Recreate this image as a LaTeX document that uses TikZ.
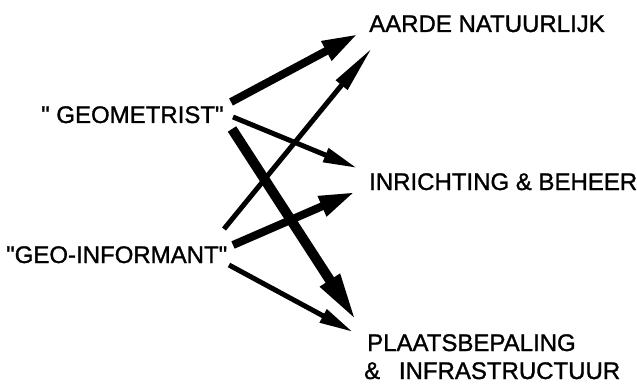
\documentclass[tikz,border=0pt]{standalone}
\usepackage{fontspec}
\setmainfont{Liberation Sans}[Ligatures=TeXOff,FakeBold=1.2]
\usetikzlibrary{arrows.meta}
\begin{document}
\begin{tikzpicture}[x=1pt,y=-1pt,
  lbl/.style={anchor=base west,inner sep=0pt,font=\fontsize{24}{28}\selectfont},
  heavy/.style={line width=10pt,-{Triangle[length=50pt,width=21pt]}},
  thick8/.style={line width=8pt,-{Triangle[length=36pt,width=20pt]}},
  thin5/.style={line width=5pt,-{Triangle[length=34pt,width=14pt]}},
  spike/.style={line width=5pt,-{Triangle[length=48pt,width=14pt]}}]
\useasboundingbox (0,0) rectangle (637,385);
\node[lbl] (aarde) at (369,32) {AARDE NATUURLIJK};
\node[lbl] (inr) at (369,190) {INRICHTING \& BEHEER};
\node[lbl] (plaats) at (367,351) {PLAATSBEPALING};
\node[lbl] (infra) at (364,379) {\&\hspace{0.78em}INFRASTRUCTUUR};
\node[lbl] (geom) at (41,123) {" GEOMETRIST"};
\node[lbl] (geoinf) at (6,263) {"GEO-INFORMANT"};
% connector end points
\coordinate (g1) at (231,102);
\coordinate (g2) at (233,117);
\coordinate (g3) at (232,129);
\coordinate (i1) at (224,229);
\coordinate (i2) at (233,245);
\coordinate (i3) at (229,265);
\coordinate (ta1) at (358,34);
\coordinate (ta2) at (372,48);
\coordinate (tb1) at (357,168);
\coordinate (tb2) at (355,192);
\coordinate (tc1) at (357,322);
\coordinate (tc2) at (353,332);
\draw[thick8] (g1) -- (ta1);
\draw[thin5] (g2) -- (tb1);
\draw[heavy] (g3) -- (tc1);
\draw[spike] (i1) -- (ta2);
\draw[thick8] (i2) -- (tb2);
\draw[thin5] (i3) -- (tc2);
\end{tikzpicture}
\end{document}
